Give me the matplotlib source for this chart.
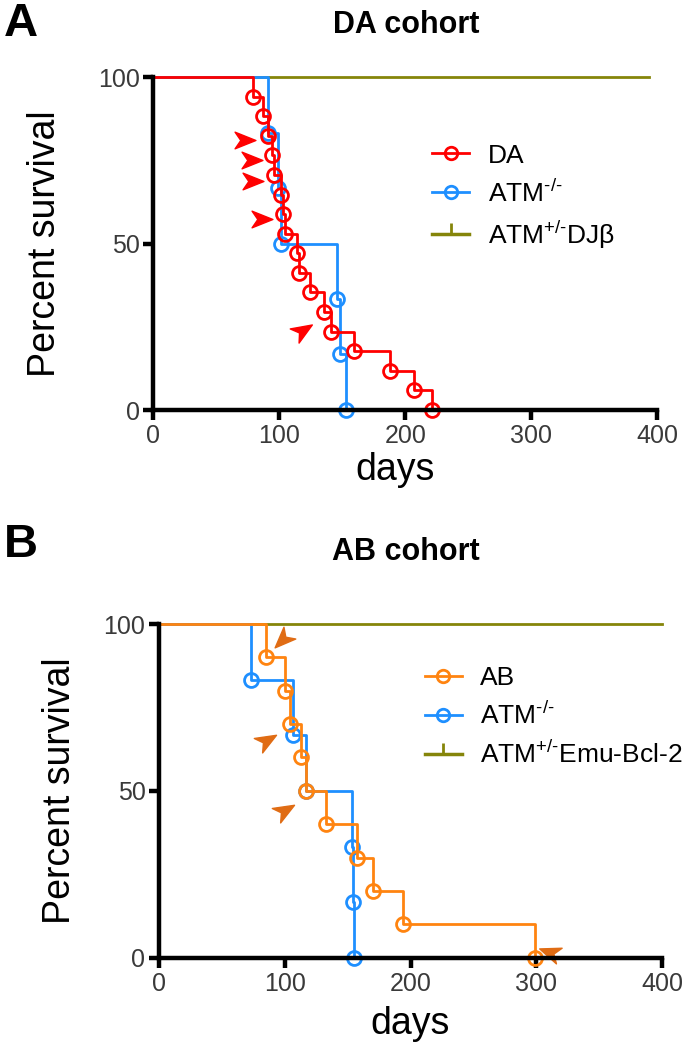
import matplotlib
matplotlib.use("Agg")
import matplotlib.pyplot as plt
from matplotlib.lines import Line2D
from matplotlib.path import Path
from matplotlib.markers import MarkerStyle
from matplotlib.transforms import Affine2D

plt.rcParams['font.family'] = ['Liberation Sans', 'DejaVu Sans']
plt.rcParams['mathtext.fontset'] = 'custom'
plt.rcParams['mathtext.rm'] = 'Liberation Sans'
plt.rcParams['mathtext.it'] = 'Liberation Sans:italic'
plt.rcParams['mathtext.bf'] = 'Liberation Sans:bold'

# --- data (days, percent surviving) ---
da_days = [79, 87, 91, 94, 96, 101, 102.5, 104, 114, 115.5, 124, 135, 141, 159, 188, 207, 221]
da_surv = [94.1, 88.2, 82.4, 76.5, 70.6, 64.7, 58.8, 52.9, 47.1, 41.2, 35.3, 29.4, 23.5, 17.6, 11.8, 5.9, 0]

atm_a_days = [91, 99, 101.5, 146, 148, 152.5]
atm_b_days = [73, 106, 117, 153, 154, 155]
atm_surv = [83.3, 66.7, 50, 33.3, 16.7, 0]

ab_days = [85, 100, 104, 113, 117, 133, 157, 170, 194, 299]
ab_surv = [90, 80, 70, 60, 50, 40, 30, 20, 10, 0]

ctrl_end_a = 393
ctrl_end_b = 400

# arrowheads marking individual mice (day, percent, direction in degrees)
arrows_a = [(72.6, 81.1, 0), (78, 75.1, 0), (78.7, 68.8, 0), (85.9, 57.4, 0), (118.4, 24, 32)]
arrows_b = [(97.6, 95.2, 225), (85.4, 65.2, 30), (100, 44.3, 30), (310, 1.6, 160)]

RED = '#ff0000'
BLUE = '#1e8fff'
OLIVE = '#85850a'
ORANGE = '#ff8410'
ARROW_ORANGE = '#e06c14'

arrow_path = Path([(1, 0), (-1, 0.8), (-0.45, 0), (-1, -0.8), (1, 0)],
                  [Path.MOVETO, Path.LINETO, Path.LINETO, Path.LINETO, Path.CLOSEPOLY])


def arrowhead(ax, x, y, ang, color):
    m = MarkerStyle(arrow_path, transform=Affine2D().rotate_deg(ang))
    ax.plot(x, y, marker=m, ms=15, color=color, ls='none', clip_on=False)


def km(ax, days, surv, color, label):
    ax.step([0] + days, [100] + surv, where='post', color=color, lw=2, clip_on=False)
    ax.plot(days, surv, 'o', ms=10, mfc='none', mec=color, mew=2, clip_on=False)
    return Line2D([], [], color=color, lw=2, marker='o', ms=9, mfc='none', mew=2, label=label)


def style(ax, ylab_x, xlab_x, xlab_y):
    ax.set_xlim(0, 400)
    ax.set_ylim(0, 100)
    ax.set_xticks([0, 100, 200, 300, 400])
    ax.set_yticks([0, 50, 100])
    for s in ['top', 'right']:
        ax.spines[s].set_visible(False)
    for s in ['left', 'bottom']:
        ax.spines[s].set_linewidth(3.2)
    ax.tick_params(direction='out', length=7, width=3.2, labelsize=18,
                   labelcolor='#3a3a3a', pad=3)
    ax.set_xlabel('days', fontsize=27)
    ax.set_ylabel('Percent survival', fontsize=27)
    ax.yaxis.set_label_coords(ylab_x, 0.5)
    ax.xaxis.set_label_coords(xlab_x, xlab_y)


def legend(ax, handles, x, y):
    ax.legend(handles=handles, loc='upper left', bbox_to_anchor=(x, y),
              frameon=False, fontsize=19, handlelength=1.4, handletextpad=0.7,
              labelspacing=0.45, borderaxespad=0, borderpad=0)


fig = plt.figure(figsize=(6.87, 10.5), dpi=100)

# panel A
ax1 = fig.add_axes([0.2234, 0.6095, 0.7336, 0.3171])
ax1.plot([0, ctrl_end_a], [100, 100], color=OLIVE, lw=2, clip_on=False)
h_ctrl = Line2D([], [], color=OLIVE, lw=2.5, marker=2, ms=8, mew=2,
                label=r'ATM$^{\text{+/-}}$DJβ')
h_atm = km(ax1, atm_a_days, atm_surv, BLUE, r'ATM$^{\text{-/-}}$')
h_da = km(ax1, da_days, da_surv, RED, 'DA')
for x, y, a in arrows_a:
    arrowhead(ax1, x, y, a, RED)
style(ax1, -0.18, 0.48, -0.125)
legend(ax1, [h_da, h_atm, h_ctrl], 0.553, 0.80)

# panel B
ax2 = fig.add_axes([0.2319, 0.0879, 0.7317, 0.3178])
ax2.plot([0, ctrl_end_b], [100, 100], color=OLIVE, lw=2, clip_on=False)
h_ctrl2 = Line2D([], [], color=OLIVE, lw=2.5, marker=2, ms=8, mew=2,
                 label=r'ATM$^{\text{+/-}}$Emu-Bcl-2')
h_atm2 = km(ax2, atm_b_days, atm_surv, BLUE, r'ATM$^{\text{-/-}}$')
h_ab = km(ax2, ab_days, ab_surv, ORANGE, 'AB')
for x, y, a in arrows_b:
    arrowhead(ax2, x, y, a, ARROW_ORANGE)
style(ax2, -0.162, 0.498, -0.145)
legend(ax2, [h_ab, h_atm2, h_ctrl2], 0.528, 0.874)

fig.text(0.591, 0.976, 'DA cohort', fontsize=22, fontweight='bold', ha='center', va='center')
fig.text(0.591, 0.474, 'AB cohort', fontsize=22, fontweight='bold', ha='center', va='center')
fig.text(0.005, 0.977, 'A', fontsize=34, fontweight='bold', ha='left', va='center')
fig.text(0.005, 0.481, 'B', fontsize=34, fontweight='bold', ha='left', va='center')

fig.savefig('out.png', dpi=100)
